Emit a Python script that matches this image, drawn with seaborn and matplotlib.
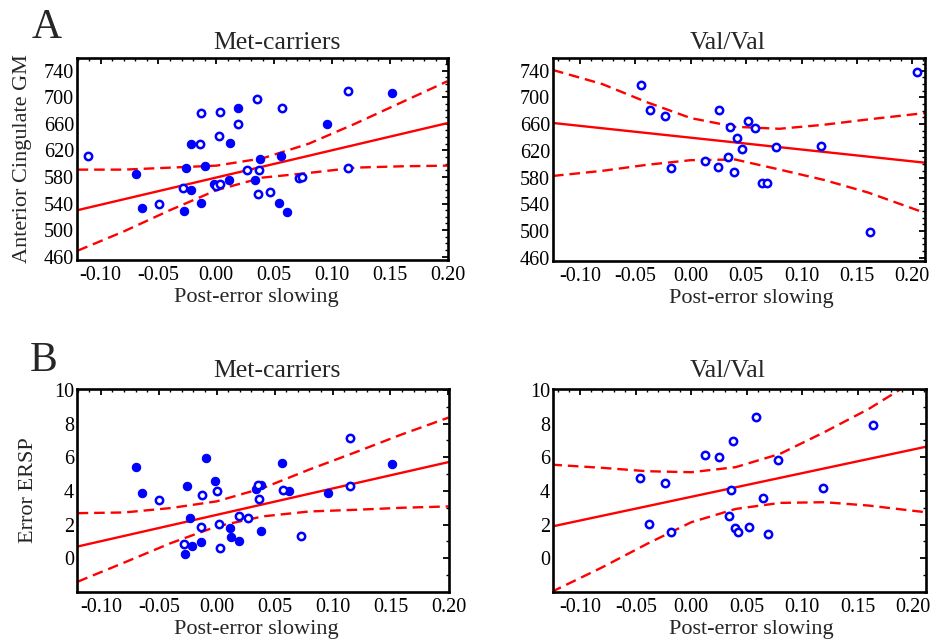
import numpy as np
import pandas as pd
import matplotlib
matplotlib.use("Agg")
import matplotlib.pyplot as plt
import seaborn as sns
from matplotlib.ticker import MultipleLocator

# ---------------- data ----------------
# Panel A, Met-carriers (filled = one subgroup, open = other subgroup)
a_met_x_filled = [-0.0697, -0.0646, -0.0265, -0.0277, -0.0219, -0.0219, -0.0133, -0.0098, -0.0023,
                  0.0110, 0.0121, 0.0190, 0.0331, 0.0378, 0.0545, 0.0562, 0.0611, 0.0954, 0.1519]
a_met_y_filled = [585, 533, 593, 529, 629, 561, 541, 597, 569,
                  575, 631, 684, 575, 607, 541, 611, 527, 660, 706]
a_met_x_open = [-0.111, -0.0496, -0.0288, -0.0141, -0.0130, 0.0023, 0.0035, 0.0000, 0.0035, 0.0187,
                0.0262, 0.0352, 0.0372, 0.0363, 0.0461, 0.0568, 0.0712, 0.0738, 0.1144, 0.1144]
a_met_y_open = [611, 540, 563, 630, 676, 641, 678, 566, 569, 659,
                590, 697, 590, 554, 558, 684, 578, 580, 709, 594]

# Panel A, Val/Val
a_val_x = [-0.045, -0.0372, -0.0233, -0.0175, 0.0124, 0.0251, 0.0242, 0.0332, 0.0353, 0.0390,
           0.0414, 0.0459, 0.0520, 0.0577, 0.0644, 0.0692, 0.0770, 0.1175, 0.1622, 0.2040]
a_val_y = [719, 681, 672, 594, 605, 681, 596, 611, 655, 588,
           639, 623, 664, 654, 571.5, 571.5, 625, 626.5, 498, 738]

# Panel B, Met-carriers
b_met_x_filled = [-0.0695, -0.0644, -0.0259, -0.0227, -0.0270, -0.0213, -0.0138, -0.0095, -0.0017,
                  0.0115, 0.0126, 0.0193, 0.0336, 0.0379, 0.0379, 0.0563, 0.0621, 0.0957, 0.1509]
b_met_y_filled = [5.43, 3.90, 4.27, 2.41, 0.26, 0.72, 0.95, 5.96, 4.59,
                  1.79, 1.25, 1.01, 4.14, 4.35, 1.61, 5.65, 3.98, 3.90, 5.57]
b_met_x_open = [-0.050, -0.0282, -0.0138, -0.0126, 0.0003, 0.0017, 0.0029, 0.0190,
                0.0270, 0.0353, 0.0368, 0.0575, 0.0727, 0.1150, 0.1150]
b_met_y_open = [3.46, 0.85, 1.85, 3.76, 4.00, 2.01, 0.64, 2.54,
                2.41, 4.35, 3.52, 4.06, 1.31, 7.16, 4.27]

# Panel B, Val/Val
b_val_x = [-0.0458, -0.0377, -0.0232, -0.0181, 0.0127, 0.0253, 0.0337, 0.0358, 0.0380,
           0.0392, 0.0419, 0.0518, 0.0587, 0.0648, 0.0693, 0.0783, 0.1187, 0.1636]
b_val_y = [4.75, 2.04, 4.46, 1.56, 6.12, 6.04, 2.50, 4.06, 6.97,
           1.80, 1.56, 1.88, 8.40, 3.56, 1.43, 5.82, 4.16, 7.94]

# Regression lines and 95% confidence bands
a_met_fit_x = [-0.12, 0.20]
a_met_fit_y = [530, 661]
a_met_band_x = [-0.12, -0.08, -0.04, 0.00, 0.04, 0.08, 0.12, 0.16, 0.20]
a_met_band_hi = [591, 591, 594, 597, 608, 630, 660, 692, 724]
a_met_band_lo = [469, 498, 530, 560, 579, 586, 594, 596, 597]

a_val_fit_x = [-0.1245, 0.2115]
a_val_fit_y = [661.7, 602.2]
a_val_band_x = [-0.1245, -0.08, -0.04, 0.00, 0.04, 0.08, 0.12, 0.16, 0.2115]
a_val_band_hi = [741, 720, 693, 669, 656, 653, 659, 667, 676.6]
a_val_band_lo = [582.4, 590, 599, 606, 607, 592, 576.5, 557.6, 527]

b_met_fit_x = [-0.12, 0.20]
b_met_fit_y = [0.70, 5.71]
b_met_band_x = [-0.12, -0.08, -0.04, 0.00, 0.04, 0.08, 0.12, 0.16, 0.20]
b_met_band_hi = [2.68, 2.72, 2.98, 3.38, 4.17, 5.27, 6.30, 7.36, 8.35]
b_met_band_lo = [-1.39, -0.26, 0.89, 1.89, 2.49, 2.78, 2.88, 3.00, 3.08]

b_val_fit_x = [-0.126, 0.212]
b_val_fit_y = [1.88, 6.63]
b_val_band_x = [-0.126, -0.08, -0.04, 0.00, 0.04, 0.08, 0.12, 0.16, 0.20, 0.212]
b_val_band_hi = [5.56, 5.37, 5.17, 5.11, 5.41, 6.20, 7.49, 8.87, 10.5, 10.9]
b_val_band_lo = [-2.0, -0.53, 0.85, 2.14, 2.93, 3.29, 3.33, 3.13, 2.82, 2.73]

x_ticks = [-0.10, -0.05, 0.00, 0.05, 0.10, 0.15, 0.20]
x_tick_labels = ["-0.10", "-0.05", "0.00", "0.05", "0.10", "0.15", "0.20"]
a_y_ticks = [460, 500, 540, 580, 620, 660, 700, 740]
b_y_ticks = [0, 2, 4, 6, 8, 10]

titles = ["Met-carriers", "Val/Val"]
x_label = "Post-error slowing"
a_y_label = "Anterior Cingulate GM"
b_y_label = "Error ERSP"
panel_letters = ["A", "B"]

# ---------------- style ----------------
sns.set_theme(style="white")
plt.rcParams["font.family"] = ["Liberation Serif", "DejaVu Serif"]
plt.rcParams["axes.unicode_minus"] = False

BLUE = "#0000ff"
RED = "#ff0000"


def draw_fit(ax, fx, fy, bx, hi, lo):
    fit = pd.DataFrame({"x": fx, "y": fy})
    band = pd.DataFrame({"x": bx, "hi": hi, "lo": lo})
    sns.lineplot(data=fit, x="x", y="y", ax=ax, color=RED, lw=1.7, estimator=None, zorder=2)
    for col in ("hi", "lo"):
        sns.lineplot(data=band, x="x", y=col, ax=ax, color=RED, lw=1.7, estimator=None,
                     linestyle=(0, (4.5, 2.5)), zorder=2)


def scatter(ax, x, y, filled):
    if filled:
        sns.scatterplot(x=x, y=y, ax=ax, s=36, color=BLUE, edgecolor=BLUE, linewidth=0.8,
                        zorder=3, legend=False)
    else:
        sns.scatterplot(x=x, y=y, ax=ax, s=28, color="white", edgecolor=BLUE, linewidth=1.8,
                        zorder=3, legend=False)


def style_axes(ax, xlim, ylim, yticks, yminor, xlab_x):
    ax.set_xlim(*xlim)
    ax.set_ylim(*ylim)
    ax.set_xticks(x_ticks)
    ax.set_xticklabels(x_tick_labels)
    ax.set_yticks(yticks)
    ax.xaxis.set_minor_locator(MultipleLocator(0.01))
    ax.yaxis.set_minor_locator(MultipleLocator(yminor))
    ax.tick_params(which="both", direction="in", top=True, right=True, colors="black",
                   labelsize=14.5)
    ax.tick_params(which="major", length=4, width=1.3, pad=4)
    ax.tick_params(axis="y", which="major", pad=2)
    ax.tick_params(which="minor", length=2.2, width=1.0)
    for sp in ax.spines.values():
        sp.set_linewidth(1.9)
        sp.set_color("black")
    ax.set_xlabel(x_label, fontsize=16)
    ax.xaxis.set_label_coords(xlab_x, -0.138)
    ax.set_ylabel("")


fig = plt.figure(figsize=(9.44, 6.4), dpi=100)
W, H = 944, 640


def add_ax(x0, y0, x1, y1):
    return fig.add_axes([x0 / W, 1 - y1 / H, (x1 - x0) / W, (y1 - y0) / H])


axA1 = add_ax(77, 58, 448, 260)
axA2 = add_ax(553, 58, 925, 261)
axB1 = add_ax(77, 389, 449, 592)
axB2 = add_ax(553, 389, 926, 592)

xlim_left = (-0.1205, 0.2005)
xlim_right = (-0.1245, 0.2115)
a_ylim = (455, 759)
b_ylim = (-2, 10.05)

# Panel A left
draw_fit(axA1, a_met_fit_x, a_met_fit_y, a_met_band_x, a_met_band_hi, a_met_band_lo)
scatter(axA1, a_met_x_filled, a_met_y_filled, True)
scatter(axA1, a_met_x_open, a_met_y_open, False)
style_axes(axA1, xlim_left, a_ylim, a_y_ticks, 10, 0.482)
axA1.set_ylabel(a_y_label, fontsize=16)
axA1.yaxis.set_label_coords(-0.121, 0.5)

# Panel A right
draw_fit(axA2, a_val_fit_x, a_val_fit_y, a_val_band_x, a_val_band_hi, a_val_band_lo)
scatter(axA2, a_val_x, a_val_y, False)
style_axes(axA2, xlim_right, a_ylim, a_y_ticks, 10, 0.532)

# Panel B left
draw_fit(axB1, b_met_fit_x, b_met_fit_y, b_met_band_x, b_met_band_hi, b_met_band_lo)
scatter(axB1, b_met_x_filled, b_met_y_filled, True)
scatter(axB1, b_met_x_open, b_met_y_open, False)
style_axes(axB1, xlim_left, b_ylim, b_y_ticks, 1, 0.482)
axB1.set_ylabel(b_y_label, fontsize=16)
axB1.yaxis.set_label_coords(-0.105, 0.5)

# Panel B right
draw_fit(axB2, b_val_fit_x, b_val_fit_y, b_val_band_x, b_val_band_hi, b_val_band_lo)
scatter(axB2, b_val_x, b_val_y, False)
style_axes(axB2, xlim_right, b_ylim, b_y_ticks, 1, 0.532)

# titles (baseline positions in pixels)
for (xc, yb, t) in [(277, 49, titles[0]), (728, 49, titles[1]),
                    (277, 377, titles[0]), (728, 377, titles[1])]:
    fig.text(xc / W, 1 - yb / H, t, fontsize=18.5, ha="center", va="baseline")

# panel letters
fig.text(47 / W, 1 - 38 / H, panel_letters[0], fontsize=30, ha="center", va="baseline")
fig.text(44 / W, 1 - 371 / H, panel_letters[1], fontsize=30, ha="center", va="baseline")

fig.savefig("out.png", dpi=100, facecolor="white")
